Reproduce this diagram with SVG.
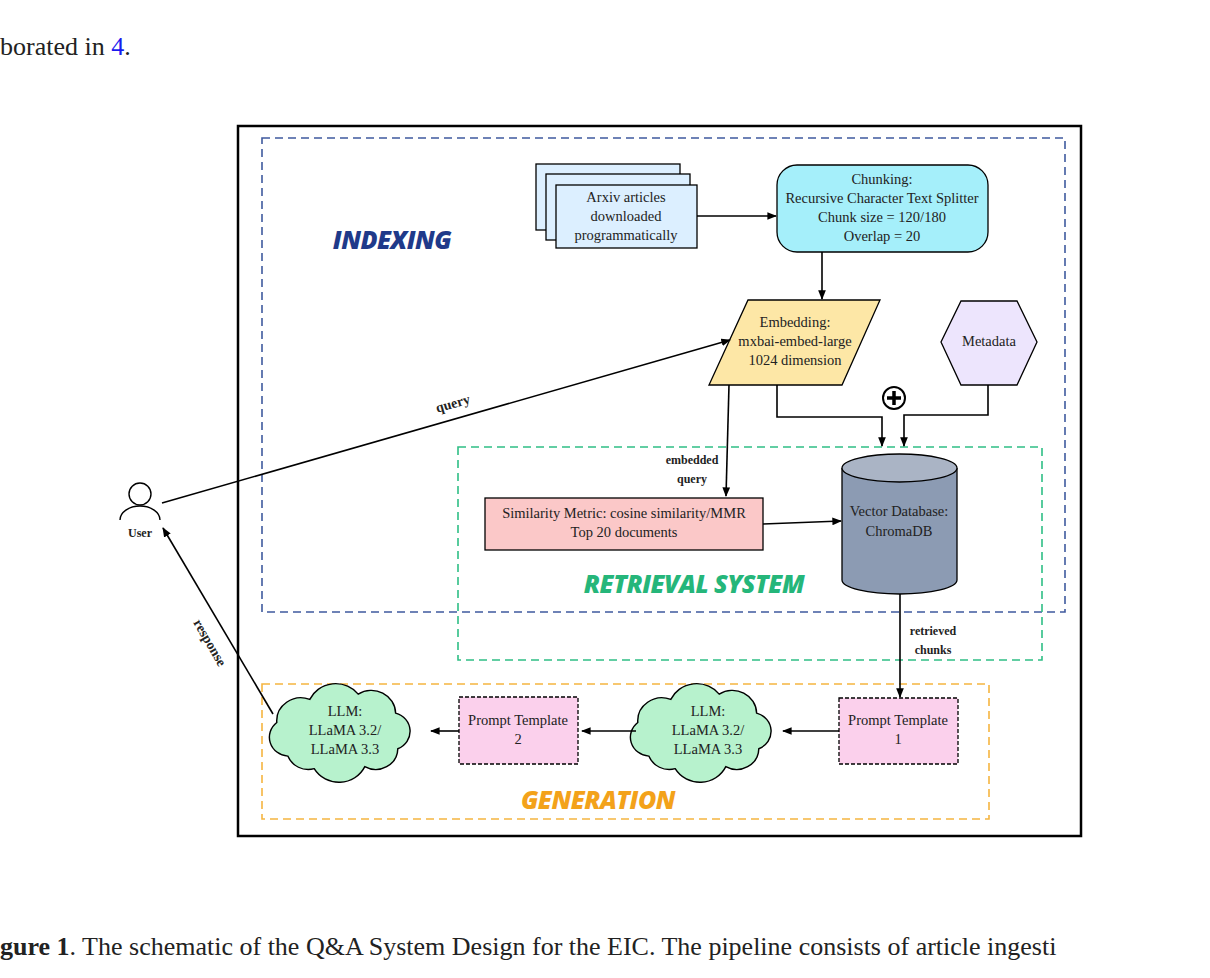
<svg xmlns="http://www.w3.org/2000/svg" width="1210" height="978" viewBox="0 0 1210 978">
<defs>
<marker id="ah" viewBox="0 0 10 10" refX="9" refY="5" markerWidth="6" markerHeight="6" orient="auto"><path d="M0,1 L10,5 L0,9 z" fill="#000"/></marker>
<path id="cloud" d="M-52,22 a18,18 0 0 1 -10,-32 a22,22 0 0 1 30,-22 a26,26 0 0 1 44,-5 a22,22 0 0 1 34,18 a18,18 0 0 1 2,34 a20,20 0 0 1 -30,17 a26,26 0 0 1 -46,2 a20,20 0 0 1 -24,-12 z"/>
</defs>
<style>
text{font-family:"Liberation Serif",serif;font-size:14.5px;fill:#222;text-anchor:middle}
.b{font-weight:bold;font-size:12px}
.ttl{font-family:"Open Sans","Liberation Sans",sans-serif;font-weight:800;font-style:italic;font-size:25px;letter-spacing:-0.5px}
.ln{fill:none;stroke:#000;stroke-width:1.6}
.box{stroke:#000;stroke-width:1.3}
</style>
<rect width="1210" height="978" fill="#fff"/>
<text x="0" y="55" style="font-size:26px;text-anchor:start">borated in <tspan style="fill:#1a1aee">4</tspan>.</text>
<text x="0" y="955" style="font-size:26px;text-anchor:start"><tspan font-weight="bold">gure 1</tspan>.  The schematic of the Q&amp;A System Design for the EIC. The pipeline consists of article ingesti</text>
<rect x="238" y="126" width="843" height="710" fill="none" stroke="#000" stroke-width="2.5"/>
<g id="indexing"><rect x="262" y="138" width="803" height="474" fill="none" stroke="#3f5a9e" stroke-width="1.6" stroke-dasharray="8,5"/><text class="ttl" x="392" y="249" style="fill:#1f3a8a">INDEXING</text></g>
<g id="retrieval"><rect x="458" y="447" width="584" height="213" fill="none" stroke="#2fbf85" stroke-width="1.6" stroke-dasharray="8,5"/><text class="ttl" x="694" y="593" style="fill:#25b67a">RETRIEVAL SYSTEM</text></g>
<g id="generation"><rect x="262" y="684" width="727" height="135" fill="none" stroke="#f5b540" stroke-width="1.6" stroke-dasharray="8,5"/><text class="ttl" x="598" y="809" style="fill:#f3a21a">GENERATION</text></g>
<g id="arxiv" class="box" fill="#dcefff">
<rect x="536" y="164" width="144" height="66"/><rect x="546" y="174" width="144" height="66"/><rect x="556" y="185" width="141" height="63"/>
<text x="626" y="202" stroke="none">Arxiv articles</text><text x="626" y="221" stroke="none">downloaded</text><text x="626" y="240" stroke="none">programmatically</text></g>
<g id="chunking"><rect class="box" x="777" y="165" width="211" height="87" rx="20" fill="#a5effa" stroke-width="1.8"/>
<text x="882" y="184">Chunking:</text><text x="882" y="203">Recursive Character Text Splitter</text><text x="882" y="222">Chunk size = 120/180</text><text x="882" y="241">Overlap = 20</text></g>
<g id="embedding"><polygon class="box" points="748,300 880,300 842,385 709,385" fill="#fde7a6"/>
<text x="795" y="327">Embedding:</text><text x="795" y="346">mxbai-embed-large</text><text x="795" y="365">1024 dimension</text></g>
<g id="metadata"><polygon class="box" points="961,301 1017,301 1037,342 1017,385 961,385 941,342" fill="#ede5fd" stroke-width="1"/><text x="989" y="346">Metadata</text></g>
<g id="plus"><circle cx="894" cy="398" r="11" fill="#fff" stroke="#000" stroke-width="2"/><path d="M894,391v14M887,398h14" stroke="#000" stroke-width="3.5"/></g>
<g id="vectordb"><path class="box" d="M842,468 v112 a57.5,14 0 0 0 115,0 v-112" fill="#8c9bb3"/><ellipse class="box" cx="899.5" cy="468" rx="57.5" ry="14" fill="#aab4c5"/>
<text x="899" y="516">Vector Database:</text><text x="899" y="536">ChromaDB</text></g>
<g id="similarity"><rect class="box" x="485" y="498" width="278" height="52" fill="#fbc8c8"/><text x="624" y="518">Similarity Metric: cosine similarity/MMR</text><text x="624" y="537">Top 20 documents</text></g>
<g id="pt1"><rect x="839" y="698" width="119" height="66" fill="#fbd0ec" stroke="#000" stroke-width="1.3" stroke-dasharray="4,2"/><text x="898" y="725">Prompt Template</text><text x="898" y="744">1</text></g>
<g id="pt2"><rect x="459" y="697" width="119" height="67" fill="#fbd0ec" stroke="#000" stroke-width="1.3" stroke-dasharray="4,2"/><text x="518" y="725">Prompt Template</text><text x="518" y="744">2</text></g>
<g id="llm2"><use href="#cloud" transform="translate(706,733) scale(1.1,1.05)" fill="#b7f2cd" stroke="#000" stroke-width="1.3"/><text x="708" y="716">LLM:</text><text x="708" y="735">LLaMA 3.2/</text><text x="708" y="754">LLaMA 3.3</text></g>
<g id="llm1"><use href="#cloud" transform="translate(345,733) scale(1.1,1.05)" fill="#b7f2cd" stroke="#000" stroke-width="1.3"/><text x="345" y="716">LLM:</text><text x="345" y="735">LLaMA 3.2/</text><text x="345" y="754">LLaMA 3.3</text></g>
<g id="user"><circle cx="140" cy="494" r="11" fill="#fff" stroke="#000" stroke-width="1.4"/><path d="M120,520 a20,14 0 0 1 40,0" fill="none" stroke="#000" stroke-width="1.4"/><text class="b" x="140" y="537">User</text></g>
<g id="connectors" class="ln" marker-end="url(#ah)">
<path d="M697,216 H776"/>
<path d="M822,252 V299"/>
<path d="M777,385 V417 H882 V446"/>
<path d="M988,385 V415 H904 V446"/>
<path d="M729,385 L726,496"/>
<path d="M763,524 L841,521"/>
<path d="M900,594 V697"/>
<path d="M839,731 H783"/>
<path d="M636,731 H582"/>
<path d="M459,731 H431"/>
<path d="M273,714 L163,528"/>
<path d="M162,503 L730,340"/>
</g>
<g id="labels">
<text class="b" x="692" y="464">embedded</text><text class="b" x="692" y="483">query</text>
<text class="b" x="933" y="635">retrieved</text><text class="b" x="933" y="654">chunks</text>
<text class="b" x="453" y="408" transform="rotate(-16 453 404)" style="font-size:14px">query</text>
<text class="b" x="206" y="645" transform="rotate(60 206 645)" style="font-size:14px">response</text>
</g>
</svg>
